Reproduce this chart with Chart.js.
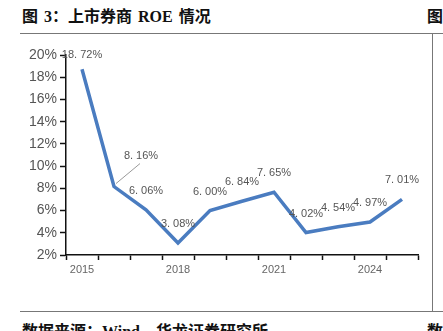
<!DOCTYPE html>
<html>
<head>
  <meta charset="utf-8">
  <title>上市券商 ROE 情况</title>
  <style>
    body { margin: 0; background: #fff; }
    .page { position: relative; width: 443px; height: 331px; overflow: hidden; }
    .title, .source, .edge { position: absolute; font-family: "Liberation Serif", "Noto Sans CJK SC", serif; font-weight: bold; color: #111; font-size: 16px; white-space: nowrap; }
    .title { left: 22px; top: 3px; word-spacing: 2px; }
    .source { left: 22px; top: 318px; }
    .rule { position: absolute; background: #777; }
    canvas { position: absolute; left: 0; top: 0; }
  </style>
  <script src="https://cdn.jsdelivr.net/npm/chart.js"></script>
</head>
<body>
  <div class="page">
    <div class="title">图 3：上市券商 ROE 情况</div>
    <div class="edge" style="left:427px;top:3px;">图</div>
    <div class="rule" style="left:20px;top:33px;width:423px;height:1px;"></div>
    <div class="rule" style="left:432px;top:33px;width:1px;height:279px;"></div>
    <div class="rule" style="left:20px;top:311px;width:423px;height:1px;"></div>
    <div class="source">数据来源：Wind，华龙证券研究所</div>
    <div class="edge" style="left:427px;top:318px;">数</div>
    <canvas id="roeChart" width="443" height="311"></canvas>
  </div>

  <script>
    const years = ['2015', '2016', '2017', '2018', '2019', '2020', '2021', '2022', '2023', '2024', '2025'];
    const roe = [18.72, 8.16, 6.06, 3.08, 6.00, 6.84, 7.65, 4.02, 4.54, 4.97, 7.01];
    const shownYears = ['2015', '2018', '2021', '2024'];

    // value labels, mostly centred above each point
    const pointLabels = {
      id: 'pointLabels',
      afterDatasetsDraw(chart) {
        const ctx = chart.ctx;
        const pts = chart.getDatasetMeta(0).data;
        ctx.save();
        ctx.font = '11px "Liberation Sans", Arial, sans-serif';
        ctx.fillStyle = '#555';
        ctx.textAlign = 'center';
        ctx.textBaseline = 'middle';
        pts.forEach((p, i) => {
          let dx = 0, dy = -19;
          if (i === 0) dy = -14;
          if (i === 1) {
            dx = 27; dy = -31;
            ctx.strokeStyle = '#999';
            ctx.lineWidth = 1;
            ctx.beginPath();
            ctx.moveTo(p.x + 2, p.y - 3);
            ctx.lineTo(p.x + 26, p.y - 23);
            ctx.stroke();
          }
          const txt = roe[i].toFixed(2).replace('.', '. ') + '%';
          ctx.fillText(txt, p.x + dx, p.y + dy);
        });
        ctx.restore();
      }
    };

    new Chart(document.getElementById('roeChart'), {
      type: 'line',
      data: {
        labels: years,
        datasets: [{
          data: roe,
          borderColor: '#4a7cc0',
          borderWidth: 3.5,
          pointRadius: 0,
          tension: 0,
          fill: false
        }]
      },
      options: {
        responsive: false,
        animation: false,
        layout: { padding: { left: 0, right: 25, top: 55, bottom: 26 } },
        plugins: { legend: { display: false }, tooltip: { enabled: false } },
        scales: {
          x: {
            offset: true,
            afterFit(scale) { scale.height = 30; },
            border: { color: '#111', width: 1.5 },
            grid: { offset: true, drawOnChartArea: false, tickLength: 5, tickColor: '#111', tickWidth: 1.5 },
            ticks: {
              autoSkip: false,
              maxRotation: 0,
              padding: 3,
              color: '#666',
              font: { family: '"Liberation Sans", Arial, sans-serif', size: 11 },
              callback(v, i) { return shownYears.includes(years[i]) ? years[i] : ''; }
            }
          },
          y: {
            min: 2,
            max: 20,
            afterFit(scale) { scale.width = 66; },
            border: { color: '#111', width: 1.5 },
            grid: { drawOnChartArea: false, tickLength: 6, tickColor: '#111', tickWidth: 1.5 },
            ticks: {
              stepSize: 2,
              padding: 3,
              color: '#555',
              font: { family: '"Liberation Sans", Arial, sans-serif', size: 14 },
              callback: v => v + '%'
            }
          }
        }
      },
      plugins: [pointLabels]
    });
  </script>
</body>
</html>
